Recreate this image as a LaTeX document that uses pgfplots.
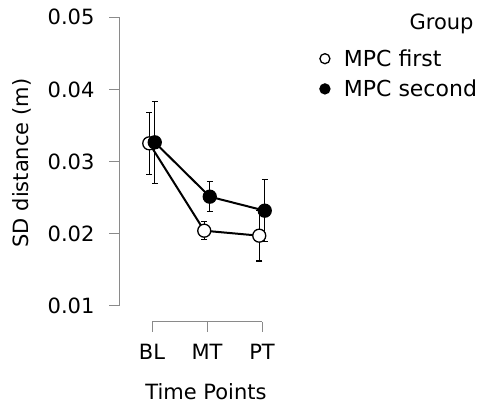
\documentclass[border=0pt]{standalone}
\usepackage{fontspec}
\setmainfont{DejaVu Sans}
\usepackage{pgfplots}
\pgfplotsset{compat=1.18}
\definecolor{axisgray}{HTML}{8A8A8A}

\pgfplotstableread{
x      y        err
0.95   0.03252  0.00428
1.95   0.02040  0.00127
2.95   0.01971  0.00351
}\first
\pgfplotstableread{
x      y        err
1.05   0.03266  0.00570
2.05   0.02512  0.00211
3.05   0.02318  0.00428
}\second

\begin{document}
\begin{tikzpicture}
\useasboundingbox (0,0) rectangle (486pt,406pt);
\begin{axis}[
  at={(119pt,84.3pt)}, anchor=south west,
  scale only axis, width=176pt, height=304.4pt,
  xmin=0.4, xmax=3.6, ymin=0.00778, ymax=0.05,
  axis x line*=bottom, axis y line*=left,
  axis line style={draw=none},
  xtick={1,2,3}, xticklabels={BL,MT,PT},
  ytick={0.01,0.02,0.03,0.04,0.05},
  /pgf/number format/fixed, /pgf/number format/fixed zerofill,
  /pgf/number format/precision=2,
  /pgf/number format/assume math mode=true,
  scaled y ticks=false,
  tick align=outside, major tick length=10pt,
  tick style={axisgray, line width=1pt},
  ticklabel style={font=\fontsize{21}{21}\selectfont, text=black},
  yticklabel style={xshift=-11pt},
  xticklabel style={yshift=-9pt},
  xlabel={Time Points}, ylabel={SD distance (m)},
  label style={font=\fontsize{21}{21}\selectfont},
  xlabel style={at={(axis description cs:0.4938,-0.2572)}, anchor=base},
  ylabel style={at={(axis description cs:-0.5153,0.521)}, anchor=base},
  clip=false,
  legend style={at={(axis description cs:1.12,0.8144)}, anchor=west, draw=none, fill=none,
    font=\fontsize{22}{22}\selectfont, row sep=8pt},
  legend cell align=left,
  legend image code/.code={%
    \path[draw=none, fill=none] (-5.6pt,-5.6pt) rectangle (17pt,5.6pt);
    \draw[#1, mark size=5pt, line width=1.2pt] plot coordinates {(0pt,0pt)};},
  error bars/y dir=both, error bars/y explicit,
  error bars/error mark options={rotate=90, mark size=3pt, line width=1.2pt},
  error bars/error bar style={line width=1.2pt, black},
]
\draw[axisgray, line width=1pt] (axis cs:1,0.00778) -- (axis cs:3,0.00778);
\draw[axisgray, line width=1pt] (axis cs:0.4,0.01) -- (axis cs:0.4,0.05);
\addplot[black, line width=2pt, mark=*, mark size=6.5pt,
  mark options={fill=white, draw=black, line width=1.3pt}]
  table[x=x, y=y, y error=err] {\first};
\addlegendentry{MPC first}
\addplot[black, line width=2pt, mark=*, mark size=6.5pt,
  mark options={fill=black, draw=black, line width=1.3pt}]
  table[x=x, y=y, y error=err] {\second};
\addlegendentry{MPC second}
\end{axis}
\node[anchor=base east, font=\fontsize{21}{21}\selectfont] at (477pt,376pt) {Group};
\end{tikzpicture}
\end{document}
